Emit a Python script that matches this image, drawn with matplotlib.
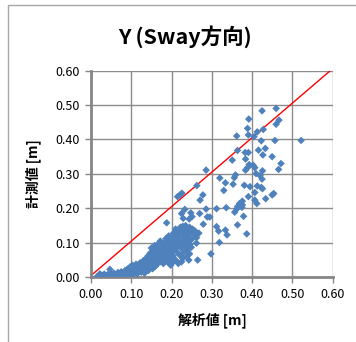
import numpy as np
import matplotlib
matplotlib.use("Agg")
import matplotlib.pyplot as plt
from matplotlib.patches import Rectangle

plt.rcParams['font.family'] = ['Noto Sans CJK JP', 'DejaVu Sans']

# analysed (x) vs measured (y) sway values [m]
# dense cluster near the origin
x_cluster = [0.015, 0.020, 0.022, 0.025, 0.028, 0.030, 0.033, 0.035, 0.037, 0.040,
             0.042, 0.045, 0.047, 0.048, 0.050, 0.052, 0.055, 0.057, 0.060, 0.062,
             0.065, 0.067, 0.070, 0.072, 0.075, 0.077, 0.080, 0.082, 0.085, 0.087,
             0.090, 0.092, 0.095, 0.097, 0.100, 0.100, 0.103, 0.105,
             0.107, 0.110, 0.112, 0.115, 0.117, 0.120, 0.122, 0.125, 0.127, 0.130,
             0.130, 0.133, 0.135, 0.137, 0.140, 0.142, 0.143, 0.145, 0.147, 0.150,
             0.150, 0.152, 0.153, 0.155, 0.157, 0.158, 0.160, 0.160,
             0.162, 0.163, 0.165, 0.166, 0.168, 0.170, 0.170, 0.172, 0.173, 0.175,
             0.176, 0.178, 0.180, 0.180, 0.182, 0.183, 0.185, 0.186, 0.188, 0.190,
             0.190, 0.192, 0.193, 0.195, 0.196, 0.198, 0.200, 0.200, 0.200,
             0.202, 0.204, 0.205, 0.207, 0.208, 0.210, 0.210, 0.212, 0.214, 0.215,
             0.217, 0.218, 0.220, 0.220, 0.222, 0.223, 0.225, 0.225, 0.227, 0.228,
             0.230, 0.230, 0.232, 0.234, 0.235, 0.237, 0.238, 0.240, 0.240, 0.242,
             0.245, 0.246, 0.248, 0.250, 0.252, 0.255, 0.258, 0.262, 0.268,
             0.198, 0.212, 0.228, 0.245, 0.238,
             0.140, 0.145, 0.155, 0.160, 0.165, 0.170, 0.175, 0.180, 0.185, 0.190,
             0.195, 0.200, 0.205, 0.210, 0.215, 0.220, 0.225, 0.230, 0.235, 0.240,
             0.190, 0.200, 0.210, 0.220, 0.230, 0.170, 0.180, 0.160, 0.150, 0.120,
             0.110, 0.130, 0.085, 0.095, 0.060, 0.070, 0.040]
y_cluster = [0.002, 0.004, 0.010, 0.001, 0.006, 0.003, 0.009, 0.000, 0.005, 0.002,
             0.008, 0.001, 0.023, 0.005, 0.010, 0.002, 0.006, 0.012, 0.001, 0.008,
             0.004, 0.014, 0.002, 0.009, 0.016, 0.005, 0.012, 0.002, 0.020, 0.008,
             0.015, 0.025, 0.004, 0.030, 0.012, 0.022, 0.035, 0.008,
             0.028, 0.018, 0.038, 0.010, 0.030, 0.022, 0.042, 0.015, 0.035, 0.048,
             0.025, 0.012, 0.040, 0.055, 0.030, 0.062, 0.020, 0.048, 0.070, 0.038,
             0.085, 0.058, 0.025, 0.075, 0.045, 0.092, 0.065, 0.032,
             0.080, 0.052, 0.095, 0.040, 0.070, 0.088, 0.058, 0.105, 0.045, 0.078,
             0.065, 0.095, 0.052, 0.085, 0.072, 0.100, 0.060, 0.112, 0.080, 0.045,
             0.092, 0.068, 0.120, 0.082, 0.055, 0.105, 0.075, 0.095, 0.040,
             0.115, 0.062, 0.128, 0.088, 0.050, 0.102, 0.140, 0.075, 0.118, 0.092,
             0.040, 0.132, 0.065, 0.108, 0.145, 0.085, 0.045, 0.125, 0.100, 0.148,
             0.072, 0.135, 0.115, 0.090, 0.150, 0.128, 0.105, 0.140, 0.080, 0.118,
             0.145, 0.095, 0.132, 0.110, 0.140, 0.125, 0.135, 0.115, 0.128,
             0.035, 0.048, 0.055, 0.068, 0.060,
             0.045, 0.060, 0.055, 0.075, 0.065, 0.078, 0.090, 0.068, 0.090, 0.105,
             0.095, 0.110, 0.100, 0.120, 0.130, 0.125, 0.138, 0.105, 0.120, 0.128,
             0.075, 0.060, 0.085, 0.092, 0.098, 0.048, 0.040, 0.050, 0.060, 0.030,
             0.025, 0.035, 0.012, 0.018, 0.005, 0.008, 0.006]

# scattered points at larger amplitudes
x_spread = [0.460, 0.425, 0.392, 0.467, 0.460, 0.389, 0.428, 0.413, 0.391, 0.405,
            0.362, 0.457, 0.423, 0.522, 0.364, 0.391, 0.383, 0.416, 0.433, 0.427,
            0.450, 0.351, 0.384, 0.472, 0.393, 0.403, 0.389, 0.384, 0.407, 0.466,
            0.286, 0.426, 0.410, 0.359, 0.356, 0.320, 0.420, 0.425, 0.334, 0.353,
            0.381, 0.395, 0.423, 0.413, 0.426, 0.263, 0.330, 0.407, 0.454, 0.450,
            0.278, 0.221, 0.226, 0.215, 0.391, 0.434, 0.271, 0.407, 0.376, 0.412,
            0.369, 0.376, 0.364, 0.375, 0.336, 0.312, 0.286, 0.362, 0.233, 0.357,
            0.248, 0.225, 0.270, 0.379, 0.289, 0.295, 0.229, 0.244, 0.251, 0.188,
            0.279, 0.364, 0.312, 0.334, 0.317, 0.338, 0.387, 0.319, 0.262, 0.249,
            0.298, 0.243, 0.265]
y_spread = [0.490, 0.483, 0.459, 0.456, 0.444, 0.432, 0.429, 0.422, 0.413, 0.408,
            0.410, 0.397, 0.396, 0.397, 0.368, 0.362, 0.362, 0.369, 0.374, 0.355,
            0.350, 0.340, 0.343, 0.330, 0.327, 0.325, 0.318, 0.311, 0.318, 0.313,
            0.311, 0.309, 0.301, 0.297, 0.289, 0.288, 0.295, 0.285, 0.274, 0.270,
            0.267, 0.263, 0.261, 0.265, 0.257, 0.266, 0.252, 0.246, 0.243, 0.239,
            0.239, 0.239, 0.244, 0.234, 0.234, 0.228, 0.224, 0.224, 0.221, 0.214,
            0.214, 0.210, 0.205, 0.203, 0.202, 0.199, 0.198, 0.198, 0.197, 0.189,
            0.187, 0.185, 0.185, 0.177, 0.175, 0.175, 0.171, 0.169, 0.176, 0.158,
            0.154, 0.152, 0.147, 0.137, 0.134, 0.123, 0.126, 0.101, 0.099, 0.087,
            0.068, 0.050, 0.050]

# reference line (y = x)
line_x = [0.0, 0.595]
line_y = [0.005, 0.600]

ticks = [0.0, 0.1, 0.2, 0.3, 0.4, 0.5, 0.6]

W, H = 356, 342
fig = plt.figure(figsize=(W / 100, H / 100), dpi=100)
ax = fig.add_axes([91 / W, 1 - 277.3 / H, (332.5 - 91) / W, (277.3 - 70.5) / H])

ax.plot(line_x, line_y, color='red', lw=1, zorder=2)
ax.scatter(x_cluster + x_spread, y_cluster + y_spread, marker='D', s=15,
           color='#4F81BD', edgecolors='none', zorder=3)

ax.set_xlim(0, 0.6)
ax.set_ylim(0, 0.6)
ax.set_xticks(ticks)
ax.set_yticks(ticks)
ax.set_xticklabels([f'{t:.2f}' for t in ticks])
ax.set_yticklabels([f'{t:.2f}' for t in ticks])
ax.grid(True, color='#8C8C8C', lw=1)
ax.set_axisbelow(True)
for s in ['top', 'right']:
    ax.spines[s].set_visible(False)
for s in ['left', 'bottom']:
    ax.spines[s].set_color('#868686')
    ax.spines[s].set_linewidth(2)
ax.tick_params(direction='out', length=4, width=1, color='#868686',
               labelsize=9, pad=4)

fig.text(0.52, 1 - 37 / H, 'Y (Sway方向)', fontsize=15.5, fontweight='bold',
         ha='center', va='center')
fig.text(33 / W, 1 - 174 / H, '計測値 [m]', rotation=90, fontsize=10,
         fontweight='bold', ha='center', va='center')
fig.text(212 / W, 1 - 320 / H, '解析値 [m]', fontsize=10,
         fontweight='bold', ha='center', va='center')

# chart area border
fig.patches.append(Rectangle((8 / W, -0.1), 1.0, 1.1 - 5 / H, transform=fig.transFigure,
                             fill=False, ec='#A6A6A6', lw=1))

fig.savefig('out.png', dpi=100)
